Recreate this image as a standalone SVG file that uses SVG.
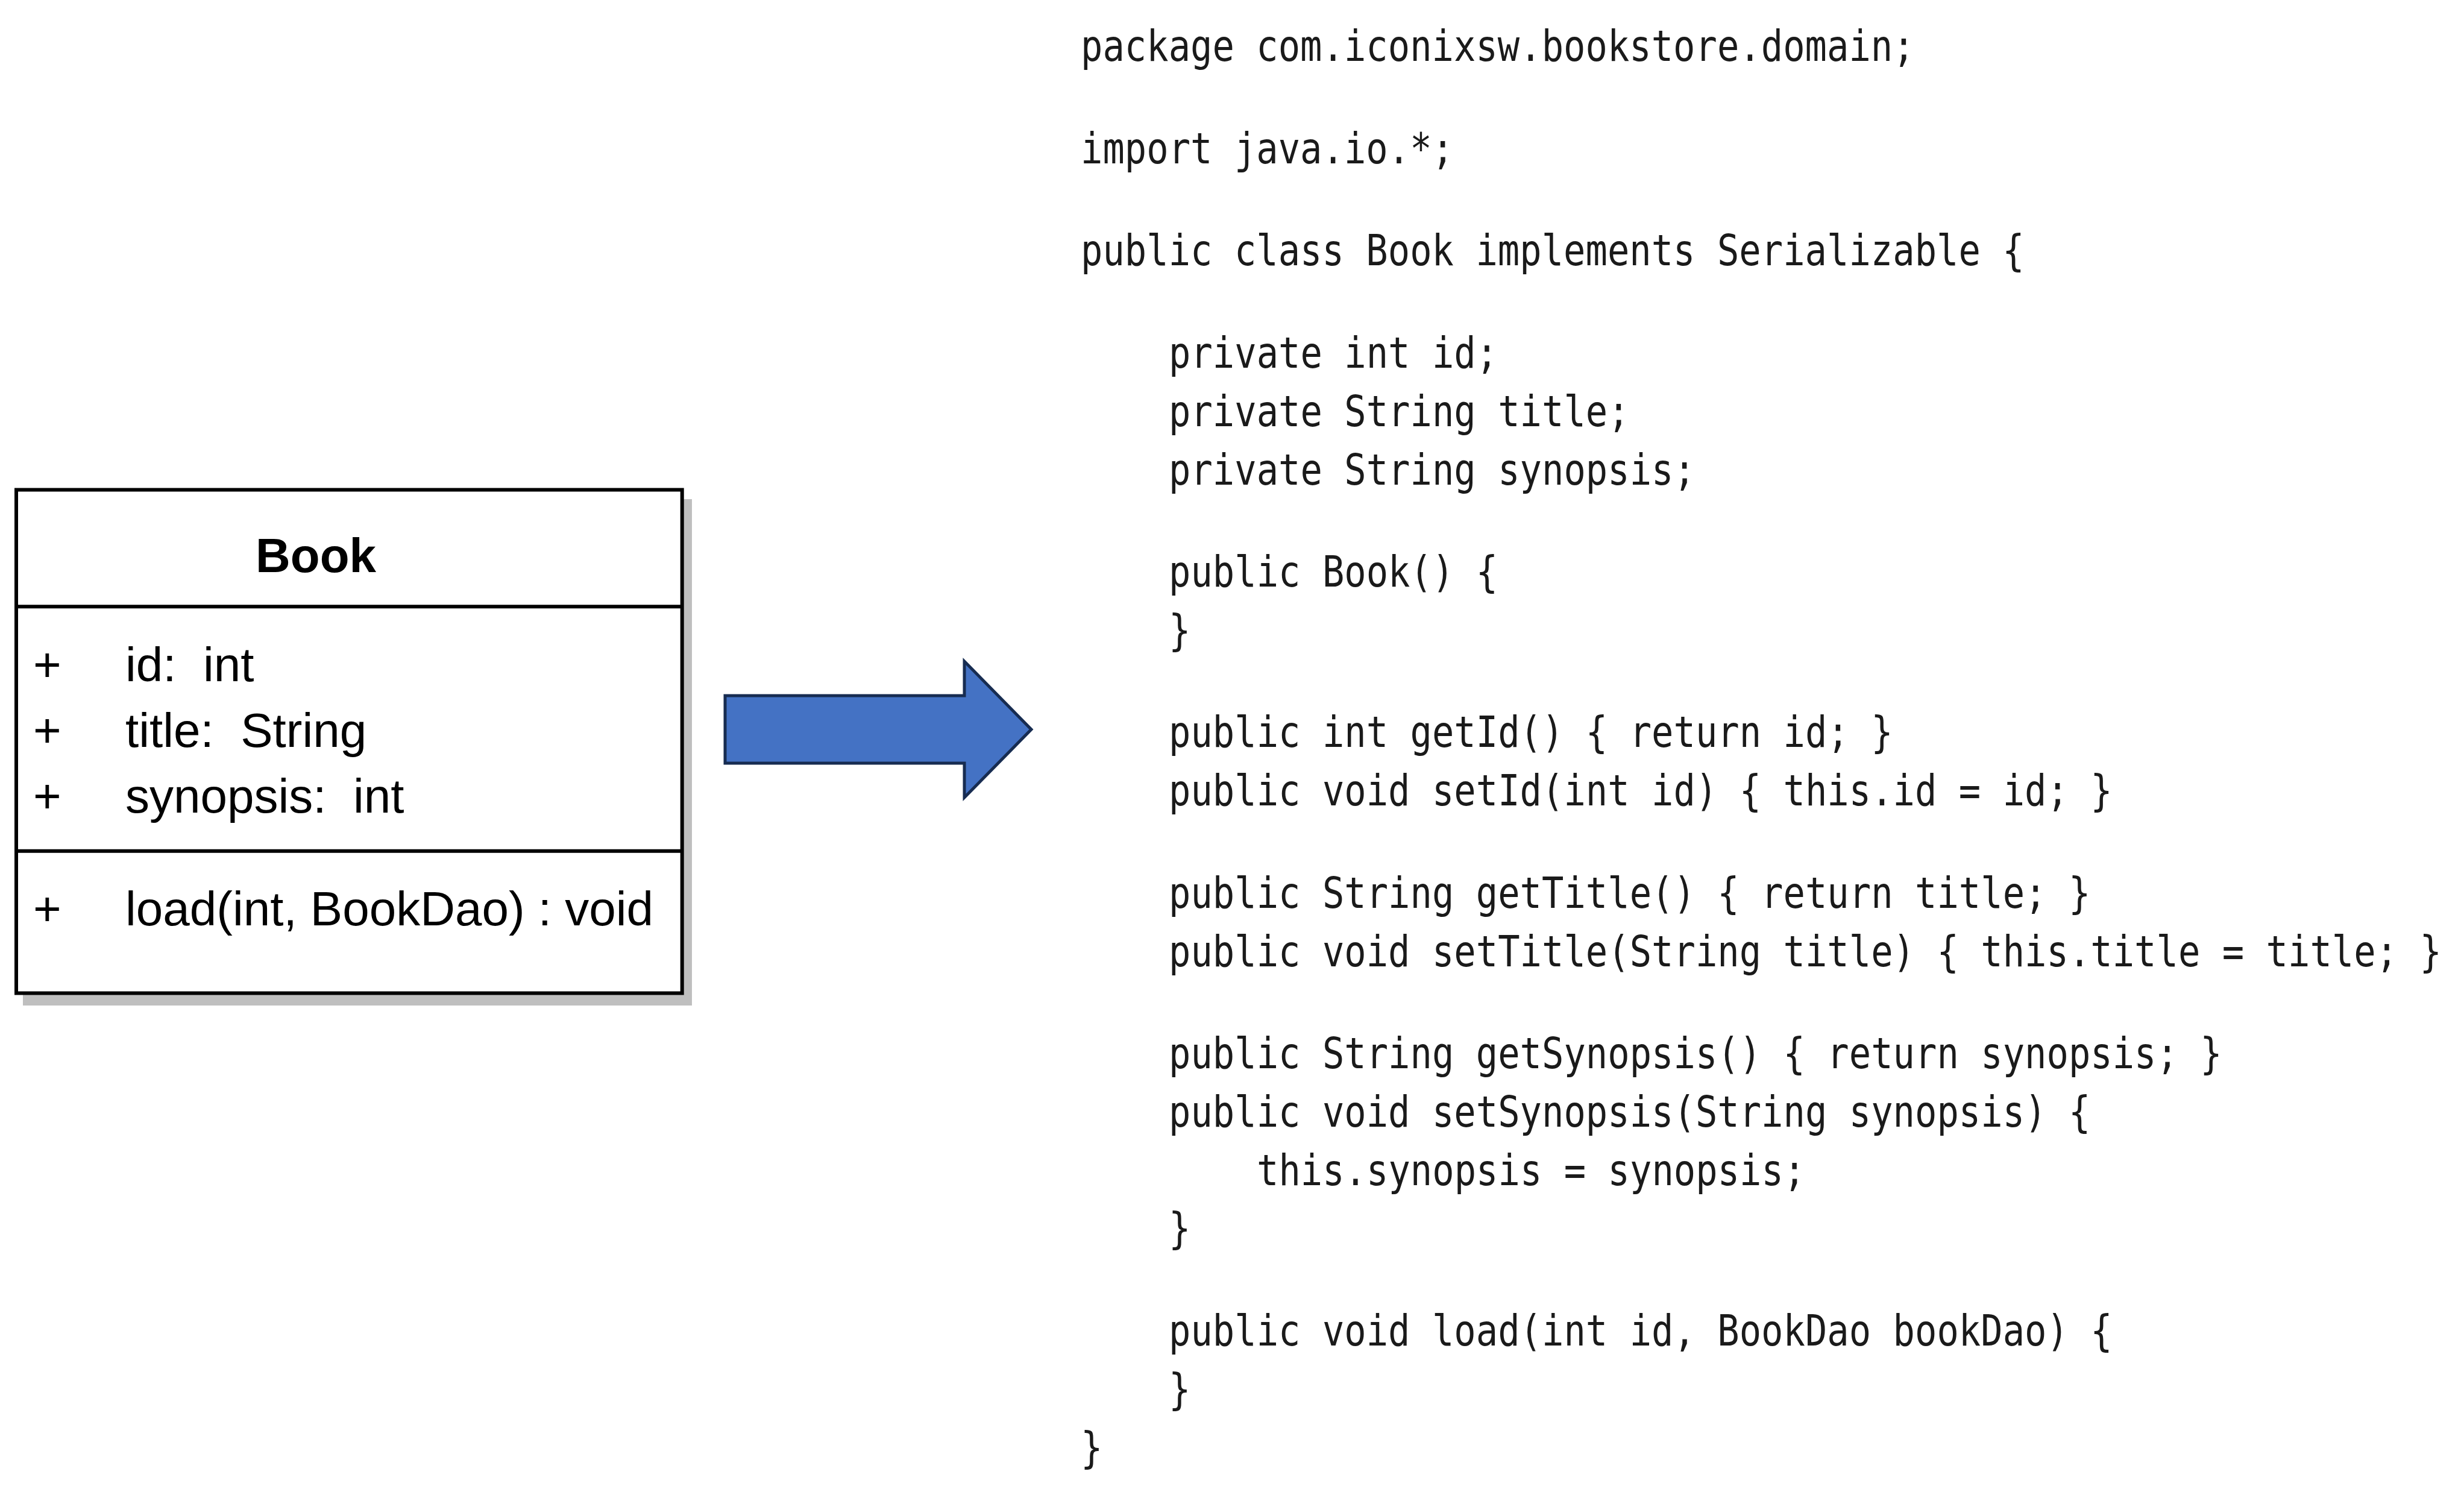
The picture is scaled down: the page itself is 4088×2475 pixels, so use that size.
<svg xmlns="http://www.w3.org/2000/svg" width="4088" height="2475" viewBox="0 0 4088 2475">
  <style>
    .box { fill: #FFFFFF; stroke: #000000; stroke-width: 6; }
    .shadow { fill: #BFBFBF; stroke: none; }
    .div { stroke: #000000; stroke-width: 6; }
    .title { font-family: "Liberation Sans", Arial, sans-serif; font-weight: bold; font-size: 80px; fill: #000000; }
    .member { font-family: "Liberation Sans", Arial, sans-serif; font-size: 80px; fill: #000000; white-space: pre; }
    .code { font-family: "DejaVu Sans Mono", "Liberation Mono", monospace; font-size: 60.5px; fill: #1A1A1A; }
    .block-arrow { fill: #4472C4; stroke: #172C51; stroke-width: 5; stroke-linejoin: miter; }
  </style>
  <rect width="4088" height="2475" fill="#FFFFFF"/>

  <g id="book-class">
    <rect class="shadow" x="38" y="828" width="1110" height="840"/>
    <rect class="box" x="27" y="812.5" width="1104.7" height="835"/>
    <line class="div" x1="27" y1="1006.3" x2="1131.7" y2="1006.3"/>
    <line class="div" x1="27" y1="1411.7" x2="1131.7" y2="1411.7"/>
    <text class="title" x="424" y="949">Book</text>
    <text class="member" x="55" y="1130">+</text>
    <text class="member" x="208" y="1130" xml:space="preserve">id:  int</text>
    <text class="member" x="55" y="1239">+</text>
    <text class="member" x="208" y="1239" xml:space="preserve">title:  String</text>
    <text class="member" x="55" y="1348">+</text>
    <text class="member" x="208" y="1348" xml:space="preserve">synopsis:  int</text>
    <text class="member" x="55" y="1535">+</text>
    <text class="member" x="208" y="1535">load(int, BookDao) : void</text>
  </g>

  <g id="connectors">
    <polygon class="block-arrow" points="1203,1154 1600,1154 1600,1097 1711,1210 1600,1323 1600,1266 1203,1266"/>
  </g>

  <g id="java-code" transform="scale(1 1.17355)">
    <text class="code" x="1793" y="86.49">package com.iconixsw.bookstore.domain;</text>
    <text class="code" x="1793" y="230.92">import java.io.*;</text>
    <text class="code" x="1793" y="375.36">public class Book implements Serializable {</text>
    <text class="code" x="1939" y="519.79">private int id;</text>
    <text class="code" x="1939" y="602.27">private String title;</text>
    <text class="code" x="1939" y="684.76">private String synopsis;</text>
    <text class="code" x="1939" y="829.11">public Book() {</text>
    <text class="code" x="1939" y="911.76">}</text>
    <text class="code" x="1939" y="1056.2">public int getId() { return id; }</text>
    <text class="code" x="1939" y="1138.43">public void setId(int id) { this.id = id; }</text>
    <text class="code" x="1939" y="1283.29">public String getTitle() { return title; }</text>
    <text class="code" x="1939" y="1365.94">public void setTitle(String title) { this.title = title; }</text>
    <text class="code" x="1939" y="1509.95">public String getSynopsis() { return synopsis; }</text>
    <text class="code" x="1939" y="1592.6">public void setSynopsis(String synopsis) {</text>
    <text class="code" x="2085" y="1675.26">this.synopsis = synopsis;</text>
    <text class="code" x="1939" y="1757.49">}</text>
    <text class="code" x="1939" y="1901.92">public void load(int id, BookDao bookDao) {</text>
    <text class="code" x="1939" y="1984.58">}</text>
    <text class="code" x="1793" y="2066.89">}</text>
  </g>
</svg>
